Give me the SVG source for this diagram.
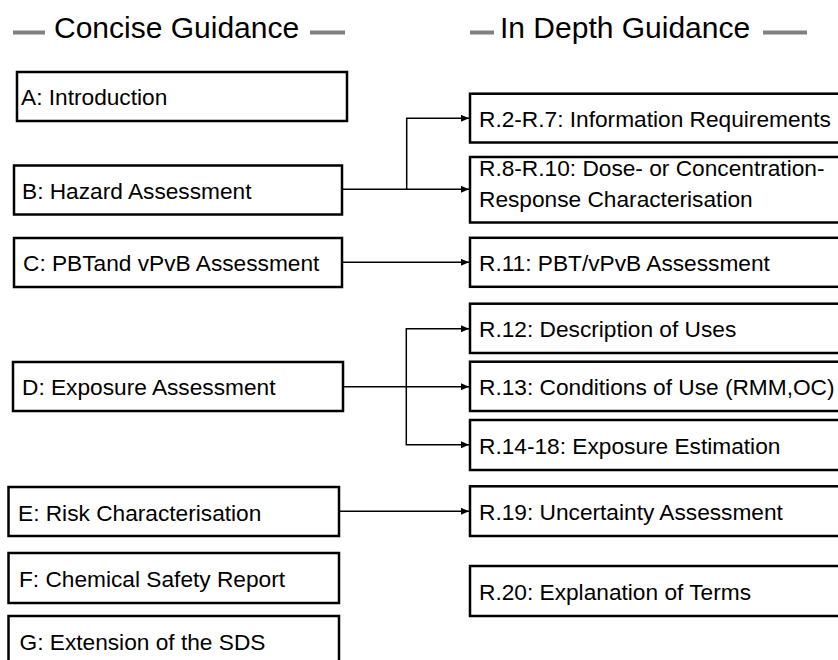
<svg xmlns="http://www.w3.org/2000/svg" width="838" height="660" viewBox="0 0 838 660">
  <style>
    .box { fill: #ffffff; stroke: #000000; stroke-width: 2.5; }
    .lbl { font-family: "Liberation Sans", Arial, sans-serif; font-size: 22.7px; fill: #000000; }
    .title { font-family: "Liberation Sans", Arial, sans-serif; font-size: 30px; fill: #000000; }
    .dash { stroke: #808080; stroke-width: 4; }
    .conn { fill: none; stroke: #000000; stroke-width: 1.5; }
  </style>
  <defs>
    <marker id="arrow" markerUnits="userSpaceOnUse" markerWidth="8" markerHeight="7" refX="8" refY="3.5" orient="auto">
      <path d="M0,0 L8,3.5 L0,7 Z" fill="#000000"/>
    </marker>
  </defs>
  <rect width="838" height="660" fill="#ffffff"/>

  <!-- column headings -->
  <g id="heading-concise">
    <line class="dash" x1="13" y1="32.5" x2="45" y2="32.5"/>
    <text class="title" x="54" y="37.5">Concise Guidance</text>
    <line class="dash" x1="310" y1="32.5" x2="345" y2="32.5"/>
  </g>
  <g id="heading-indepth">
    <line class="dash" x1="470" y1="32.5" x2="494" y2="32.5"/>
    <text class="title" x="500" y="37.5">In Depth Guidance</text>
    <line class="dash" x1="763" y1="32.5" x2="807" y2="32.5"/>
  </g>

  <!-- concise guidance parts -->
  <g id="node-a">
    <rect class="box" x="17" y="72" width="330" height="49"/>
    <text class="lbl" x="21" y="105">A: Introduction</text>
  </g>
  <g id="node-b">
    <rect class="box" x="14" y="165.5" width="328" height="49"/>
    <text class="lbl" x="22" y="198.5">B: Hazard Assessment</text>
  </g>
  <g id="node-c">
    <rect class="box" x="14" y="238" width="328" height="49"/>
    <text class="lbl" x="23" y="271">C: PBTand vPvB Assessment</text>
  </g>
  <g id="node-d">
    <rect class="box" x="13" y="362" width="330" height="49"/>
    <text class="lbl" x="22" y="395">D: Exposure Assessment</text>
  </g>
  <g id="node-e">
    <rect class="box" x="8.5" y="487" width="330.5" height="49"/>
    <text class="lbl" x="18" y="520.5">E: Risk Characterisation</text>
  </g>
  <g id="node-f">
    <rect class="box" x="8.5" y="553" width="330.5" height="50"/>
    <text class="lbl" x="19" y="587">F: Chemical Safety Report</text>
  </g>
  <g id="node-g">
    <rect class="box" x="8.5" y="616" width="330.5" height="60"/>
    <text class="lbl" x="19.5" y="650">G: Extension of the SDS</text>
  </g>

  <!-- in depth guidance chapters -->
  <g id="node-r2-r7">
    <rect class="box" x="470" y="93.7" width="380" height="48.8"/>
    <text class="lbl" x="479" y="126.7">R.2-R.7: Information Requirements</text>
  </g>
  <g id="node-r8-r10">
    <rect class="box" x="470" y="157" width="380" height="65.5"/>
    <text class="lbl" x="479" y="175.5">R.8-R.10: Dose- or Concentration-</text>
    <text class="lbl" x="479" y="206.5">Response Characterisation</text>
  </g>
  <g id="node-r11">
    <rect class="box" x="470" y="237.8" width="380" height="49"/>
    <text class="lbl" x="479" y="271">R.11: PBT/vPvB Assessment</text>
  </g>
  <g id="node-r12">
    <rect class="box" x="470" y="303.7" width="380" height="49.3"/>
    <text class="lbl" x="479" y="337">R.12: Description of Uses</text>
  </g>
  <g id="node-r13">
    <rect class="box" x="470" y="361.7" width="380" height="49.3"/>
    <text class="lbl" x="479" y="395">R.13: Conditions of Use (RMM,OC)</text>
  </g>
  <g id="node-r14-18">
    <rect class="box" x="470" y="420" width="380" height="50"/>
    <text class="lbl" x="479" y="453.5">R.14-18: Exposure Estimation</text>
  </g>
  <g id="node-r19">
    <rect class="box" x="470" y="486.3" width="380" height="49.7"/>
    <text class="lbl" x="479" y="520">R.19: Uncertainty Assessment</text>
  </g>
  <g id="node-r20">
    <rect class="box" x="470" y="566" width="380" height="50"/>
    <text class="lbl" x="479" y="599.5">R.20: Explanation of Terms</text>
  </g>

  <!-- connectors -->
  <g id="connectors">
    <path class="conn" d="M343,189.3 H469" marker-end="url(#arrow)"/>
    <path class="conn" d="M406.7,189.3 V118.3 H469" marker-end="url(#arrow)"/>
    <path class="conn" d="M343,262.3 H469" marker-end="url(#arrow)"/>
    <path class="conn" d="M344,386.7 H469" marker-end="url(#arrow)"/>
    <path class="conn" d="M406.3,386.7 V328.8 H469" marker-end="url(#arrow)"/>
    <path class="conn" d="M406.3,386.7 V444.8 H469" marker-end="url(#arrow)"/>
    <path class="conn" d="M340,511.3 H469" marker-end="url(#arrow)"/>
  </g>
</svg>
